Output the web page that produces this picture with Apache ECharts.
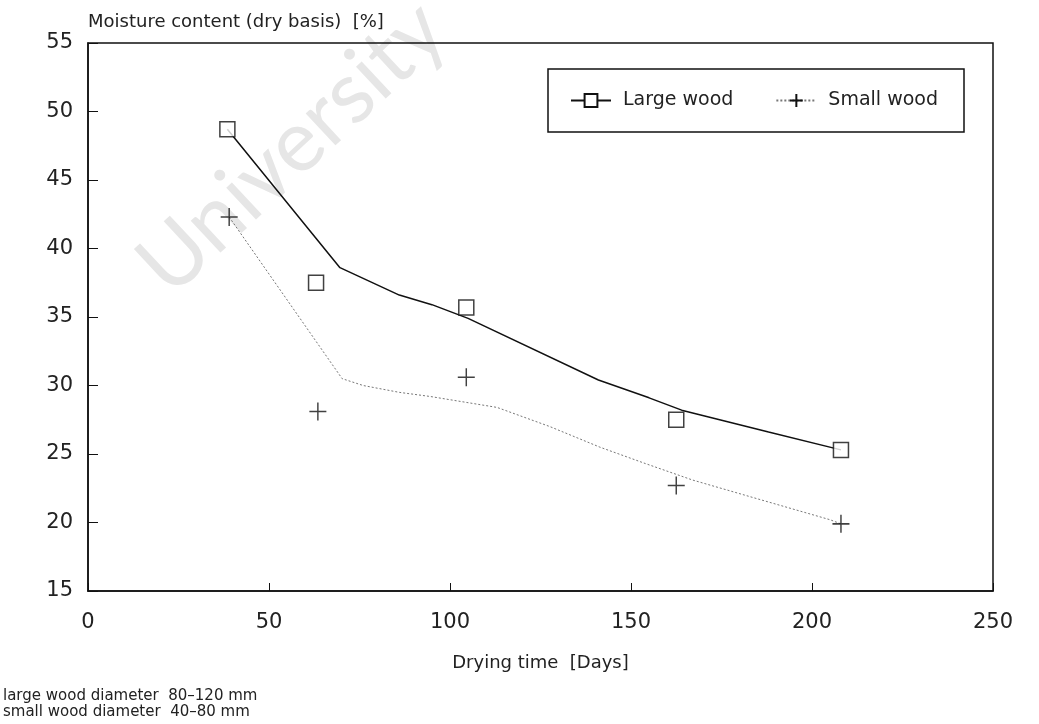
<!DOCTYPE html>
<html><head><meta charset="utf-8">
<script src="https://cdn.jsdelivr.net/npm/echarts@6/dist/echarts.min.js"></script>
<style>html,body{margin:0;padding:0;background:#fff}#c{width:1039px;height:724px}</style>
</head><body><div id="c"></div>
<script>
// Measured data (days, moisture % dry basis)
const largeDays = [38.5, 63, 104.5, 162.5, 208];
const largeMoisture = [48.7, 37.5, 35.7, 27.5, 25.3];
const smallDays = [39, 63.5, 104.5, 162.5, 208];
const smallMoisture = [42.3, 28.1, 30.6, 22.7, 19.9];
// Fitted curves
const largeFitDays = [38.5, 69.6, 86, 95, 105, 141, 155, 164, 188, 208];
const largeFitMoisture = [48.7, 38.6, 36.6, 35.9, 34.9, 30.4, 29.1, 28.2, 26.6, 25.3];
const smallFitDays = [39, 70.2, 76, 86, 94.5, 113, 127.6, 141.4, 154, 167, 184, 205, 208];
const smallFitMoisture = [42.3, 30.5, 30.0, 29.5, 29.2, 28.4, 27.0, 25.5, 24.3, 23.1, 21.8, 20.2, 19.9];
// Axes
const xMin = 0, xMax = 250, xStep = 50;
const yMin = 15, yMax = 55, yStep = 5;
const seriesNames = ['Large wood', 'Small wood'];
const yTitle = 'Moisture content (dry basis)  [%]';
const xTitle = 'Drying time  [Days]';
const notes = ['large wood diameter  80\u2013120 mm', 'small wood diameter  40\u201380 mm'];

const pair = (xs, ys) => xs.map((x, i) => [x, ys[i]]);
const FONT = 'DejaVu Sans';
const plusPath = 'path://M5,0L5,10M0,5L10,5';

const chart = echarts.init(document.getElementById('c'), null, {renderer: 'canvas'});
chart.setOption({
  animation: false,
  backgroundColor: '#fff',
  textStyle: {fontFamily: FONT, color: '#222'},
  grid: {left: 88, right: 46, top: 43, bottom: 133, show: true, borderColor: '#111', borderWidth: 1.5, backgroundColor: 'transparent'},
  legend: {
    data: seriesNames,
    left: 548, top: 69,
    padding: [22, 26, 22, 22],
    itemWidth: 40, itemHeight: 16, itemGap: 42,
    borderColor: '#111', borderWidth: 1.5,
    backgroundColor: '#fff',
    textStyle: {fontFamily: FONT, fontSize: 19, color: '#222', padding: [0, 0, 0, 7]}
  },
  xAxis: {
    type: 'value', min: xMin, max: xMax, interval: xStep,
    name: xTitle, nameLocation: 'middle', nameGap: 63,
    nameTextStyle: {fontFamily: FONT, fontSize: 18, color: '#222'},
    axisLine: {show: true, lineStyle: {color: '#111', width: 1.5}},
    axisTick: {show: true, inside: true, length: 8, lineStyle: {color: '#111'}},
    axisLabel: {fontFamily: FONT, fontSize: 21, color: '#222', margin: 21},
    splitLine: {show: false}
  },
  yAxis: {
    type: 'value', min: yMin, max: yMax, interval: yStep,
    name: yTitle, nameLocation: 'end', nameGap: 12,
    nameTextStyle: {fontFamily: FONT, fontSize: 18, color: '#222', align: 'left'},
    axisLine: {show: true, lineStyle: {color: '#111', width: 1.5}},
    axisTick: {show: true, inside: true, length: 10, lineStyle: {color: '#111'}},
    axisLabel: {fontFamily: FONT, fontSize: 21, color: '#222', margin: 15},
    splitLine: {show: false}
  },
  graphic: [
    {type: 'text', x: 292, y: 148, rotation: 43 * Math.PI / 180, z: -10, silent: true,
     style: {text: 'University', font: '86px Lato', fill: '#e6e6e6', align: 'center', verticalAlign: 'middle'}},
    {type: 'text', left: 3, top: 689, style: {text: notes[0], font: '15px "DejaVu Sans"', fill: '#222'}},
    {type: 'text', left: 3, top: 705, style: {text: notes[1], font: '15px "DejaVu Sans"', fill: '#222'}}
  ],
  series: [
    {
      name: seriesNames[0], type: 'line', data: pair(largeFitDays, largeFitMoisture),
      smooth: false, showSymbol: false, symbol: 'rect',
      lineStyle: {color: '#111', width: 1.5},
      itemStyle: {color: '#fff', borderColor: '#111', borderWidth: 1.5},
      z: 2
    },
    {
      name: seriesNames[1], type: 'line', data: pair(smallFitDays, smallFitMoisture),
      smooth: false, showSymbol: false, symbol: plusPath,
      lineStyle: {color: '#777', width: 1, type: [2, 2]},
      itemStyle: {color: 'rgba(0,0,0,0)', borderColor: '#111', borderWidth: 1.5},
      z: 2
    },
    {
      name: seriesNames[0], type: 'scatter', data: pair(largeDays, largeMoisture),
      symbol: 'rect', symbolSize: 15,
      itemStyle: {color: '#fff', borderColor: '#111', borderWidth: 1.5},
      z: 3
    },
    {
      name: seriesNames[1], type: 'scatter', data: pair(smallDays, smallMoisture),
      symbol: plusPath, symbolSize: [17, 18],
      itemStyle: {color: 'rgba(0,0,0,0)', borderColor: '#111', borderWidth: 1.5},
      z: 3
    }
  ]
});
</script>
</body></html>
